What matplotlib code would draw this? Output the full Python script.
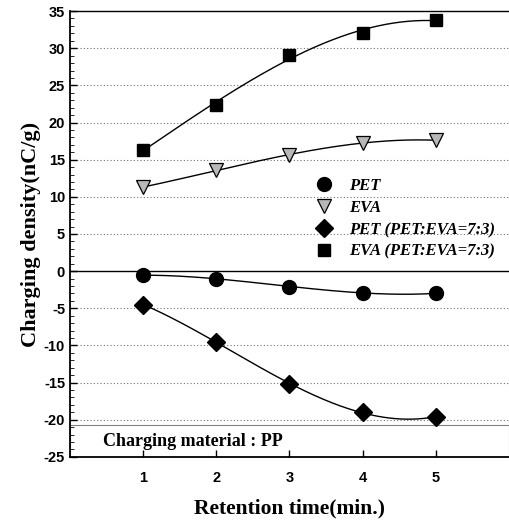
import numpy as np
import matplotlib
matplotlib.use("Agg")
import matplotlib.pyplot as plt
from matplotlib.patches import Rectangle

plt.rcParams["axes.unicode_minus"] = False

# data
time = [1, 2, 3, 4, 5]
pet = [-0.55, -1.0, -2.1, -2.9, -3.0]
eva = [11.3, 13.6, 15.6, 17.3, 17.6]
pet_mix = [-4.5, -9.5, -15.2, -19.0, -19.6]
eva_mix = [16.3, 22.4, 29.1, 32.1, 33.8]
labels = ["PET", "EVA", "PET (PET:EVA=7:3)", "EVA (PET:EVA=7:3)"]
yticks = [-25, -20, -15, -10, -5, 0, 5, 10, 15, 20, 25, 30, 35]

fig = plt.figure(figsize=(5.1, 5.27), dpi=100)
ax = fig.add_axes([0.137, 0.133, 0.861, 0.846])

# dotted grid lines
for v in yticks[1:-1]:
    if v != 0:
        ax.axhline(v, color="0.45", lw=0.8, ls=(0, (1, 2)), zorder=0)
ax.axhline(0, color="black", lw=1.0, zorder=1)

# smooth curves
xs = np.linspace(1, 5, 200)
for ys in [pet, eva, pet_mix, eva_mix]:
    c = np.polyfit(time, ys, 3)
    ax.plot(xs, np.polyval(c, xs), color="black", lw=1.0, zorder=2)

ax.plot(time, pet, "o", ms=10, color="black", ls="none", label=labels[0], zorder=3)
ax.plot(time, eva, "v", ms=10, mfc="#b8b8b8", mec="black", mew=0.9, ls="none", label=labels[1], zorder=3)
ax.plot(time, pet_mix, "D", ms=9, color="black", ls="none", label=labels[2], zorder=3)
ax.plot(time, eva_mix, "s", ms=9, color="black", ls="none", label=labels[3], zorder=3)

# charging material box
ax.add_patch(Rectangle((0, -25), 6, 4.3, fill=False, ec="0.5", lw=0.8, zorder=1))
ax.text(0.45, -22.9, "Charging material : PP", fontfamily="Liberation Serif",
        fontweight="bold", fontsize=13, va="center", ha="left")

ax.set_xlim(0, 6)
ax.set_ylim(-25, 35)
ax.set_xticks(time)
ax.set_yticks(yticks)
ax.set_yticks(np.arange(-25, 36, 1), minor=True)
ax.tick_params(axis="both", direction="in", length=5, width=1, labelsize=10.5)
ax.tick_params(axis="y", which="minor", direction="in", length=3)
ax.tick_params(axis="x", pad=10)
for t in ax.get_xticklabels() + ax.get_yticklabels():
    t.set_fontfamily("Liberation Sans")
    t.set_fontweight("bold")

ax.spines["right"].set_visible(False)
ax.spines["left"].set_linewidth(1.3)
ax.spines["bottom"].set_linewidth(1.3)
ax.spines["top"].set_linewidth(1.0)

ax.set_xlabel("Retention time(min.)", fontfamily="Liberation Serif", fontweight="bold",
              fontsize=15.5, labelpad=10)
ax.set_ylabel("Charging density(nC/g)", fontfamily="Liberation Serif", fontweight="bold",
              fontsize=16, labelpad=2)

leg = ax.legend(loc="upper left", bbox_to_anchor=(0.525, 0.64), frameon=False,
                handletextpad=0.5, labelspacing=0.35, borderaxespad=0,
                prop={"family": "Liberation Serif", "weight": "bold", "style": "italic", "size": 12})

fig.savefig("out.png", dpi=100)
